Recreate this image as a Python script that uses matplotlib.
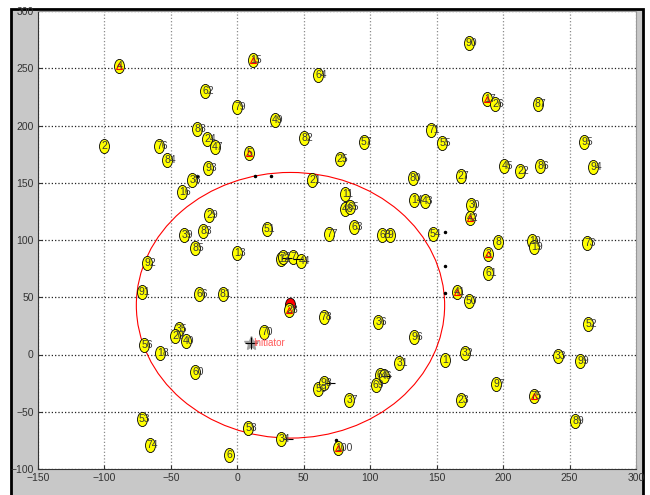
import matplotlib
matplotlib.use("Agg")
import matplotlib.pyplot as plt
from matplotlib.patches import Circle, Rectangle
from matplotlib.path import Path
from matplotlib.transforms import Affine2D

plt.rcParams["font.family"] = ["Liberation Sans Narrow", "Liberation Sans", "DejaVu Sans"]

# sensor nodes: id, x, y
node_ids = ["4", "15", "64", "90", "62", "79", "49", "17", "26", "87",
            "2", "76", "84", "88", "24", "47", "5", "82", "57", "71",
            "55", "25", "93", "38", "16", "21", "80", "27", "45", "22",
            "86", "95", "94", "11", "48", "65", "63", "14", "43", "30",
            "42", "51", "29", "83", "39", "77", "68", "9", "54", "85",
            "13", "8", "10", "19", "73", "3", "61", "92", "12", "72",
            "7", "44", "91", "66", "81", "41", "50", "28", "78", "36",
            "52", "96", "70", "35", "20", "40", "56", "18", "1", "32",
            "33", "99", "60", "31", "67", "46", "69", "97", "23", "37",
            "75", "89", "53", "74", "58", "34", "100", "6", "59", "98"]
node_x = [-89, 12, 61, 174, -24, 0, 28, 188, 194, 226,
          -100, -59, -53, -30, -23, -17, 9, 50, 95, 146,
          154, 77, -22, -34, -42, 56, 132, 168, 201, 213,
          228, 261, 268, 81, 81, 85, 88, 133, 141, 176,
          175, 22, -21, -26, -40, 69, 109, 115, 147, -32,
          0, 196, 222, 223, 263, 189, 189, -68, 33, 34,
          42, 48, -72, -29, -11, 165, 174, 39, 65, 106,
          264, 133, 20, -44, -47, -39, -70, -58, 156, 171,
          241, 258, -32, 122, 107, 110, 104, 195, 168, 84,
          223, 254, -72, -66, 8, 33, 76, -6, 61, 65]
node_y = [252, 257, 244, 272, 230, 216, 205, 223, 219, 219,
          182, 182, 170, 197, 188, 181, 176, 189, 186, 196,
          185, 171, 163, 152, 142, 152, 154, 156, 165, 160,
          165, 186, 164, 140, 127, 129, 111, 135, 134, 131,
          119, 110, 122, 108, 104, 105, 104, 104, 105, 93,
          89, 98, 99, 94, 97, 88, 71, 80, 83, 85,
          85, 82, 55, 53, 53, 55, 47, 39, 33, 28,
          27, 15, 20, 22, 16, 12, 8, 1, -5, 1,
          -1, -6, -15, -7, -18, -19, -27, -26, -40, -40,
          -36, -58, -56, -79, -64, -74, -82, -88, -30, -25]

# nodes flagged with a red triangle
flagged_ids = ["4", "15", "17", "5", "42", "3", "41", "75", "100", "28"]

# elected head and its coverage radius
head_x, head_y = 40, 43
cover_r = 116

# initiator
init_x, init_y = 10, 10

# boundary nodes (small black dots)
edge_x = [-30, 13, 25, 156, 156, 156, 74]
edge_y = [156, 156, 156, 107, 77, 54, -75]

# short black ticks next to some nodes
tick_x = [37, 46, 38, 112, 70]
tick_y = [84, 83, -74, -19, -25]

# tall ellipse marker
ellipse = Path.unit_circle().transformed(Affine2D().scale(0.7, 1.0))

fig = plt.figure(figsize=(6.5, 4.95), dpi=100)
fig.patch.set_facecolor("white")
frame = Rectangle((11 / 650, -0.02), 632 / 650, 1 - 9 / 495 + 0.02,
                  transform=fig.transFigure, facecolor="#c8c8c8",
                  edgecolor="black", linewidth=2.0, zorder=-10)
fig.patches.append(frame)

ax = fig.add_axes([38 / 650, 1 - 469 / 495, 598 / 650, 458 / 495])
ax.set_zorder(1)
ax.set_facecolor("white")
ax.set_xlim(-150, 300)
ax.set_ylim(-100, 300)
ax.set_xticks(range(-150, 301, 50))
ax.set_yticks(range(-100, 301, 50))
ax.tick_params(direction="in", length=3, labelsize=7.5, colors="#333333", pad=3)
ax.xaxis.grid(True, linestyle=":", color="#8a8a8a", linewidth=0.9)
ax.yaxis.grid(True, linestyle=":", color="#222222", linewidth=0.9)
ax.set_axisbelow(True)
for side in ["left", "bottom"]:
    ax.spines[side].set_color("#333333")
for side in ["top", "right"]:
    ax.spines[side].set_color("#999999")

ax.add_patch(Circle((head_x, head_y), cover_r, fill=False, edgecolor="red",
                    linewidth=0.8, zorder=2))

ax.plot([head_x], [head_y], linestyle="none", marker=ellipse, markersize=10.5,
        markerfacecolor="red", markeredgecolor="black", markeredgewidth=0.6, zorder=3)
ax.plot(node_x, node_y, linestyle="none", marker=ellipse, markersize=10.2,
        markerfacecolor="#ffff00", markeredgecolor="black", markeredgewidth=0.6, zorder=3)

for nid, x, y in zip(node_ids, node_x, node_y):
    if nid in flagged_ids:
        ax.plot(x, y, linestyle="none", marker="^", markersize=5,
                markerfacecolor="none", markeredgecolor="red", markeredgewidth=0.8, zorder=4)
    ax.annotate(nid, (x, y), xytext=(-2, 0), textcoords="offset points",
                ha="left", va="center", fontsize=7.5, color="#3a3a3a", zorder=5)

ax.plot(edge_x, edge_y, linestyle="none", marker=".", markersize=3, color="black", zorder=4)
ax.plot(tick_x, tick_y, linestyle="none", marker="_", markersize=7, color="black",
        markeredgewidth=0.8, zorder=4)

ax.plot(init_x, init_y, linestyle="none", marker="*", markersize=10, color="#a0a0a0", zorder=4)
ax.plot(init_x, init_y, linestyle="none", marker="+", markersize=8, color="black",
        markeredgewidth=0.8, zorder=4)
ax.annotate("Initiator", (init_x, init_y), xytext=(2, 0), textcoords="offset points",
            ha="left", va="center", fontsize=7, color="#ff5a5a", zorder=5)

fig.savefig("out.png", dpi=100)
